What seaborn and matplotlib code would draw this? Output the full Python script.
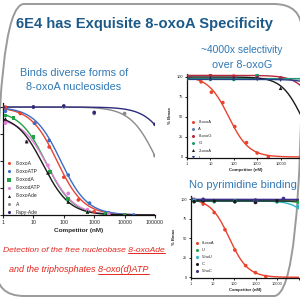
import numpy as np
import pandas as pd
import matplotlib
matplotlib.use("Agg")
import matplotlib.pyplot as plt
import seaborn as sns
from matplotlib.patches import FancyBboxPatch

sns.set_theme(style="ticks")
plt.rcParams['font.family'] = ['Liberation Sans', 'DejaVu Sans']

# ---------------- data ----------------
x_ticks = [1, 10, 100, 1000, 10000, 100000]
x_tick_labels = ["1", "10", "100", "1000", "10000", "100000"]
x_tick_labels_short = ["1", "10", "100", "1000", "10000", ""]
y_ticks = [0, 25, 50, 75, 100]
y_tick_labels = ["0", "25", "50", "75", "100"]

# left panel: diverse forms of 8-oxoA
left_names = ["8-oxoA", "8-oxoATP", "8-oxodA", "8-oxodATP", "8-oxoAde", "A", "Fapy-Ade"]
left_colors = ["#e8432e", "#3b6cc6", "#23a045", "#e07fd6", "#1a1a1a", "#8a8a8a", "#2d2b7c"]
left_markers = ["o", "o", "s", "o", "^", "o", "o"]
left_conc = [
    [1.2, 3.7, 11, 33, 100, 300, 1000, 3000],
    [1.2, 11, 33, 140, 700, 3000, 20000],
    [1.2, 2.2, 10, 35, 140, 600, 2500, 10000],
    [1.2, 6, 30, 140, 600, 3000],
    [1.2, 6, 30, 140, 600, 2500],
    [10, 100, 1000, 10000, 100000],
    [1, 10, 100, 1000, 100000],
]
left_pct = [
    [100, 94, 85, 63, 35, 14, 3, 1],
    [96, 85, 69, 37, 11, 2, 0],
    [92, 90, 72, 40, 15, 3, 1, 0],
    [85, 68, 46, 20, 5, 1],
    [89, 68, 39, 12, 3, 0],
    [100, 100, 94, 94, 55],
    [100, 100, 101, 95, 84],
]
left_top = [100, 100, 97, 90, 93, 100, 100]
left_ic50 = [60, 80, 26, 30, 21, 1.2e5, 5e5]

# top-right panel: selectivity over 8-oxoG
tr_names = ["8-oxoA", "A", "8-oxoG", "G", "2-oxoA", "I"]
tr_colors = ["#e8432e", "#5b7fb0", "#b8283e", "#1f9a6a", "#1a1a1a", "#2a3e8c"]
tr_markers = ["o", "o", "o", "o", "^", "v"]
tr_conc = [
    [1, 4, 11, 34, 110, 350, 1000, 3000],
    [1, 10, 100, 1000],
    [1, 10, 100, 1000, 10000],
    [1, 10, 100, 1000],
    [1, 10, 100, 1000, 10000, 100000],
    [1, 10, 100, 1000, 10000],
]
tr_pct = [
    [100, 94, 81, 68, 38, 18, 5, 0],
    [99, 98, 98, 98],
    [101, 102, 101, 101, 99],
    [98, 97, 97, 103],
    [100, 99, 99, 99, 86, 48],
    [97, 97, 97, 97, 96],
]
tr_top = [101, 98, 102, 98, 100, 97]
tr_ic50 = [60, 1e8, 5e5, 1e8, 8e4, 3e6]

# bottom-right panel: no pyrimidine binding
br_names = ["8-oxoA", "U", "5-hoU", "C", "5-hoC"]
br_colors = ["#e8432e", "#21a04a", "#2bb5c8", "#1a1a1a", "#3b2f8a"]
br_markers = ["o", "o", "o", "o", "o"]
br_conc = [
    [1.4, 3.7, 12, 38, 110, 350, 1000, 3000],
    [1.4, 12, 110, 1000, 10000, 100000],
    [1.4, 12, 110, 1000, 10000, 100000],
    [1.4, 3.7, 12, 110, 1000, 10000],
    [1, 3.7, 1000, 20000],
]
br_pct = [
    [100, 94, 83, 61, 35, 15, 6, 1],
    [98, 97, 98, 97, 97, 96],
    [99, 98, 97, 98, 97, 91],
    [97, 98, 98, 97, 96, 98],
    [101, 100, 99, 101],
]
br_top = [101, 98, 98, 98, 100]
br_ic50 = [60, 5e6, 9e5, 1e8, 1e8]

# ---------------- figure ----------------
W = H = 300
fig = plt.figure(figsize=(3, 3), dpi=100)
fig.patch.set_facecolor("white")

bg = fig.add_axes([0, 0, 1, 1], zorder=0)
bg.set_xlim(0, W)
bg.set_ylim(H, 0)
bg.axis("off")

def px_axes(left, top, right, bottom):
    return fig.add_axes([left / W, (H - bottom) / H, (right - left) / W, (bottom - top) / H], zorder=2)

def panel(ax, names, colors, markers, concs, pcts, tops, ic50s, fs, legend_anchor, labelspacing, xlabels):
    rows = []
    for n, c, p in zip(names, concs, pcts):
        for ci, pi in zip(c, p):
            rows.append((n, ci, pi))
    df = pd.DataFrame(rows, columns=["series", "conc", "pct"])
    grid = np.logspace(0, 5.1, 300)
    crow = []
    for n, t, ic in zip(names, tops, ic50s):
        for g in grid:
            crow.append((n, g, t / (1 + g / ic)))
    cdf = pd.DataFrame(crow, columns=["series", "conc", "pct"])
    pal = dict(zip(names, colors))
    ax.set_xscale("log")
    sns.lineplot(data=cdf, x="conc", y="pct", hue="series", palette=pal, linewidth=1.0,
                 legend=False, ax=ax, sort=True)
    sns.scatterplot(data=df, x="conc", y="pct", hue="series", style="series",
                    markers=dict(zip(names, markers)), palette=pal, s=7, linewidth=0,
                    ax=ax, legend=True, zorder=3)
    h, l = ax.get_legend_handles_labels()
    for hh in h:
        try:
            hh.set_markersize(2.2)
        except Exception:
            pass
    ax.legend(h, l, fontsize=fs, frameon=False, loc="upper left", bbox_to_anchor=legend_anchor,
              borderaxespad=0, borderpad=0, labelspacing=labelspacing, handlelength=0.6,
              handletextpad=1.0)
    ax.set_xlim(1, 100000)
    ax.set_ylim(-1, 104)
    ax.set_xticks(x_ticks)
    ax.set_xticklabels(xlabels)
    ax.minorticks_off()
    ax.set_yticks(y_ticks)
    ax.set_yticklabels(y_tick_labels)
    for s in ["top", "right"]:
        ax.spines[s].set_visible(False)
    for s in ["left", "bottom"]:
        ax.spines[s].set_linewidth(0.9)
        ax.spines[s].set_color("#111111")
    ax.set_facecolor("none")

# left panel
axL = px_axes(3, 102.7, 155, 215)
panel(axL, left_names, left_colors, left_markers, left_conc, left_pct, left_top, left_ic50,
      3.6, (0.03, 0.48), 0.62, x_tick_labels)
axL.set_ylim(0, 104)
axL.tick_params(axis="both", labelsize=3.8, length=2, width=0.8, pad=1.5)
axL.tick_params(axis="y", labelleft=False)
axL.set_xlabel("Competitor (nM)", fontsize=4.6, fontweight="bold", labelpad=2)
axL.set_ylabel("")

# top-right panel
axT = px_axes(187, 73.8, 304, 157.8)
panel(axT, tr_names, tr_colors, tr_markers, tr_conc, tr_pct, tr_top, tr_ic50,
      3.0, (0.04, 0.45), 0.75, x_tick_labels_short)
axT.tick_params(axis="both", labelsize=2.9, length=1.6, width=0.7, pad=1.2)
axT.set_xlabel("Competitor (nM)", fontsize=3.2, fontweight="bold", labelpad=1.5)
axT.set_ylabel("% Bmax", fontsize=3.2, fontweight="bold", labelpad=3)

# bottom-right panel
axB = px_axes(191, 196.2, 298.5, 278.1)
panel(axB, br_names, br_colors, br_markers, br_conc, br_pct, br_top, br_ic50,
      2.9, (0.04, 0.45), 0.75, x_tick_labels_short)
axB.tick_params(axis="both", labelsize=2.8, length=1.6, width=0.7, pad=1.2)
axB.set_xlabel("Competitor (nM)", fontsize=3.1, fontweight="bold", labelpad=1.5)
axB.set_ylabel("% Bmax", fontsize=3.1, fontweight="bold", labelpad=3)

# slide frame
frame = FancyBboxPatch((-4, 4), 306, 292, boxstyle="round,pad=0,rounding_size=28",
                       fill=False, edgecolor="#9a9a9a", linewidth=1.4)
bg.add_patch(frame)

title_blue = "#1c5a8a"
sub_blue = "#2f78b5"
bg.text(145, 24, "6E4 has Exquisite 8-oxoA Specificity", ha="center", va="center",
        fontsize=10.6, fontweight="bold", color=title_blue)
bg.text(74, 73, "Binds diverse forms of", ha="center", va="center", fontsize=7.8, color=sub_blue)
bg.text(74, 87, "8-oxoA nucleosides", ha="center", va="center", fontsize=7.8, color=sub_blue)
bg.text(242, 50, "~4000x selectivity", ha="center", va="center", fontsize=7.4, color=sub_blue)
bg.text(242, 65, "over 8-oxoG", ha="center", va="center", fontsize=7.8, color=sub_blue)
bg.text(243, 185, "No pyrimidine binding", ha="center", va="center", fontsize=8.0, color=sub_blue)

red = "#e3261d"
fs_red = 6.5
fs_red1 = 6.1
line1_pre, line1_ul = "Detection of the free nucleobase ", "8-oxoAde"
line2_pre, line2_ul = "and the triphosphates ", "8-oxo(d)ATP"
t1 = bg.text(84, 250, line1_pre + line1_ul, ha="center", va="center", fontsize=fs_red1,
             style="italic", color=red)
t2 = bg.text(79, 270, line2_pre + line2_ul, ha="center", va="center", fontsize=fs_red,
             style="italic", color=red)

fig.canvas.draw()
r = fig.canvas.get_renderer()
inv = bg.transData.inverted()
for t, pre, fs in [(t1, line1_pre, fs_red1), (t2, line2_pre, fs_red)]:
    full = t.get_window_extent(r)
    tmp = bg.text(0, 0, pre.rstrip() + " ", fontsize=fs, style="italic")
    pw = tmp.get_window_extent(r).width
    tmp.remove()
    x0 = full.x0 + pw
    x1 = full.x1
    yb = full.y0 + 1.0
    (ax0, ay), (ax1, _) = inv.transform([(x0, yb), (x1, yb)])
    bg.plot([ax0, ax1], [ay, ay], color=red, linewidth=0.7)

fig.savefig("out.png", dpi=100, facecolor="white")
